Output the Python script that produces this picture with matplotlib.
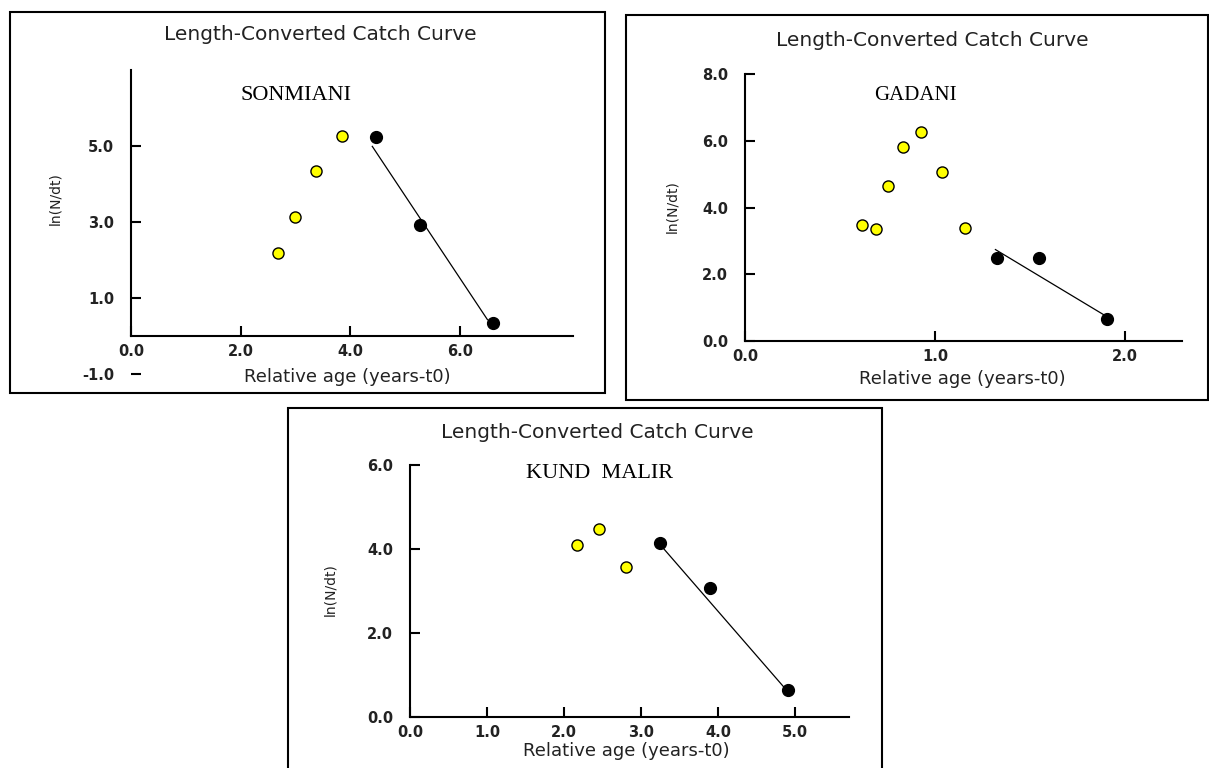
import matplotlib
matplotlib.use("Agg")
import matplotlib.pyplot as plt
from matplotlib.patches import Rectangle

# SONMIANI
son_x_used = [2.68, 2.99, 3.37, 3.85]
son_y_used = [2.18, 3.12, 4.33, 5.27]
son_x_fit = [4.46, 5.27, 6.60]
son_y_fit = [5.24, 2.91, 0.33]
son_line_x = [4.40, 6.50]
son_line_y = [4.99, 0.43]

# GADANI
gad_x_used = [0.615, 0.687, 0.755, 0.832, 0.928, 1.035, 1.160]
gad_y_used = [3.48, 3.37, 4.64, 5.82, 6.26, 5.07, 3.40]
gad_x_fit = [1.326, 1.548, 1.905]
gad_y_fit = [2.48, 2.48, 0.66]
gad_line_x = [1.318, 1.890]
gad_line_y = [2.74, 0.78]

# KUND MALIR
kun_x_used = [2.17, 2.46, 2.80]
kun_y_used = [4.09, 4.48, 3.56]
kun_x_fit = [3.25, 3.89, 4.91]
kun_y_fit = [4.14, 3.07, 0.64]
kun_line_x = [3.25, 4.86]
kun_line_y = [4.10, 0.70]

W, H = 1209, 768
fig = plt.figure(figsize=(W / 100, H / 100), dpi=100)
fig.patch.set_facecolor("white")

txt_col = "#222222"


def fx(x):
    return x / W


def fy(y):
    return 1 - y / H


def frame(x0, y0, x1, y1):
    fig.patches.append(Rectangle((fx(x0), fy(y1)), fx(x1 - x0), (y1 - y0) / H,
                                 transform=fig.transFigure, fill=False,
                                 edgecolor="black", linewidth=1.5))


def panel(rect, xlim, ylim, xticks, yticks, xu, yu, xf, yf, lx, ly,
          zero_axis=False):
    ax = fig.add_axes(rect)
    ax.set_xlim(*xlim)
    ax.set_ylim(*ylim)
    ax.spines["top"].set_visible(False)
    ax.spines["right"].set_visible(False)
    for s in ["left", "bottom"]:
        ax.spines[s].set_linewidth(1.5)
    if zero_axis:
        ax.spines["bottom"].set_position(("data", 0))
        ax.spines["left"].set_bounds(0, ylim[1])
    ax.set_xticks(xticks)
    ax.set_yticks(yticks)
    ax.set_xticklabels(["%.1f" % t for t in xticks], fontweight="bold")
    ax.set_yticklabels(["%.1f" % t for t in yticks], fontweight="bold")
    ax.tick_params(direction="in", length=7, width=1.5, labelsize=10.5,
                   labelcolor=txt_col)
    ax.tick_params(axis="y", pad=12)
    ax.tick_params(axis="x", pad=6)
    ax.plot(lx, ly, color="black", linewidth=0.9, zorder=2)
    ax.plot(xu, yu, "o", markersize=8, markerfacecolor="#ffff00",
            markeredgecolor="black", markeredgewidth=1.0, zorder=3)
    ax.plot(xf, yf, "o", markersize=8.5, color="black", zorder=3)
    return ax


# panel 1
frame(10, 12, 605, 393)
ax1 = panel([fx(131), fy(377.8), fx(442), 307.8 / H], (0, 8.06), (-1.1, 7),
            [0, 2, 4, 6], [-1, 1, 3, 5],
            son_x_used, son_y_used, son_x_fit, son_y_fit, son_line_x, son_line_y,
            zero_axis=True)

# panel 2
frame(626, 15, 1208, 400)
ax2 = panel([fx(745), fy(341), fx(437), 267 / H], (0, 2.3), (0, 8),
            [0, 1, 2], [0, 2, 4, 6, 8],
            gad_x_used, gad_y_used, gad_x_fit, gad_y_fit, gad_line_x, gad_line_y)

# panel 3
frame(288, 408, 882, 770)
ax3 = panel([fx(410), fy(717), fx(439), 252 / H], (0, 5.7), (0, 6),
            [0, 1, 2, 3, 4, 5], [0, 2, 4, 6],
            kun_x_used, kun_y_used, kun_x_fit, kun_y_fit, kun_line_x, kun_line_y)

title = "Length-Converted Catch Curve"
xlab = "Relative age (years-t0)"
ylab = "ln(N/dt)"

for (tx, ty), (xx, xy), (yx, yy) in [((320, 35), (347, 377), (55, 199)),
                                     ((932, 40), (962, 379), (672, 207)),
                                     ((597, 432), (626, 751), (330, 590))]:
    fig.text(fx(tx), fy(ty), title, ha="center", va="center", fontsize=14.5,
             color=txt_col)
    fig.text(fx(xx), fy(xy), xlab, ha="center", va="center", fontsize=13,
             color=txt_col)
    fig.text(fx(yx), fy(yy), ylab, ha="center", va="center", fontsize=10,
             rotation=90, color=txt_col)

serif = "Liberation Serif"
fig.text(fx(296), fy(95), "SONMIANI", ha="center", va="center",
         fontsize=16, family=serif)
fig.text(fx(915), fy(95), "GADANI", ha="center", va="center",
         fontsize=15, family=serif)
fig.text(fx(600), fy(473), "KUND  MALIR", ha="center", va="center",
         fontsize=16, family=serif)

fig.savefig("out.png", dpi=100)
